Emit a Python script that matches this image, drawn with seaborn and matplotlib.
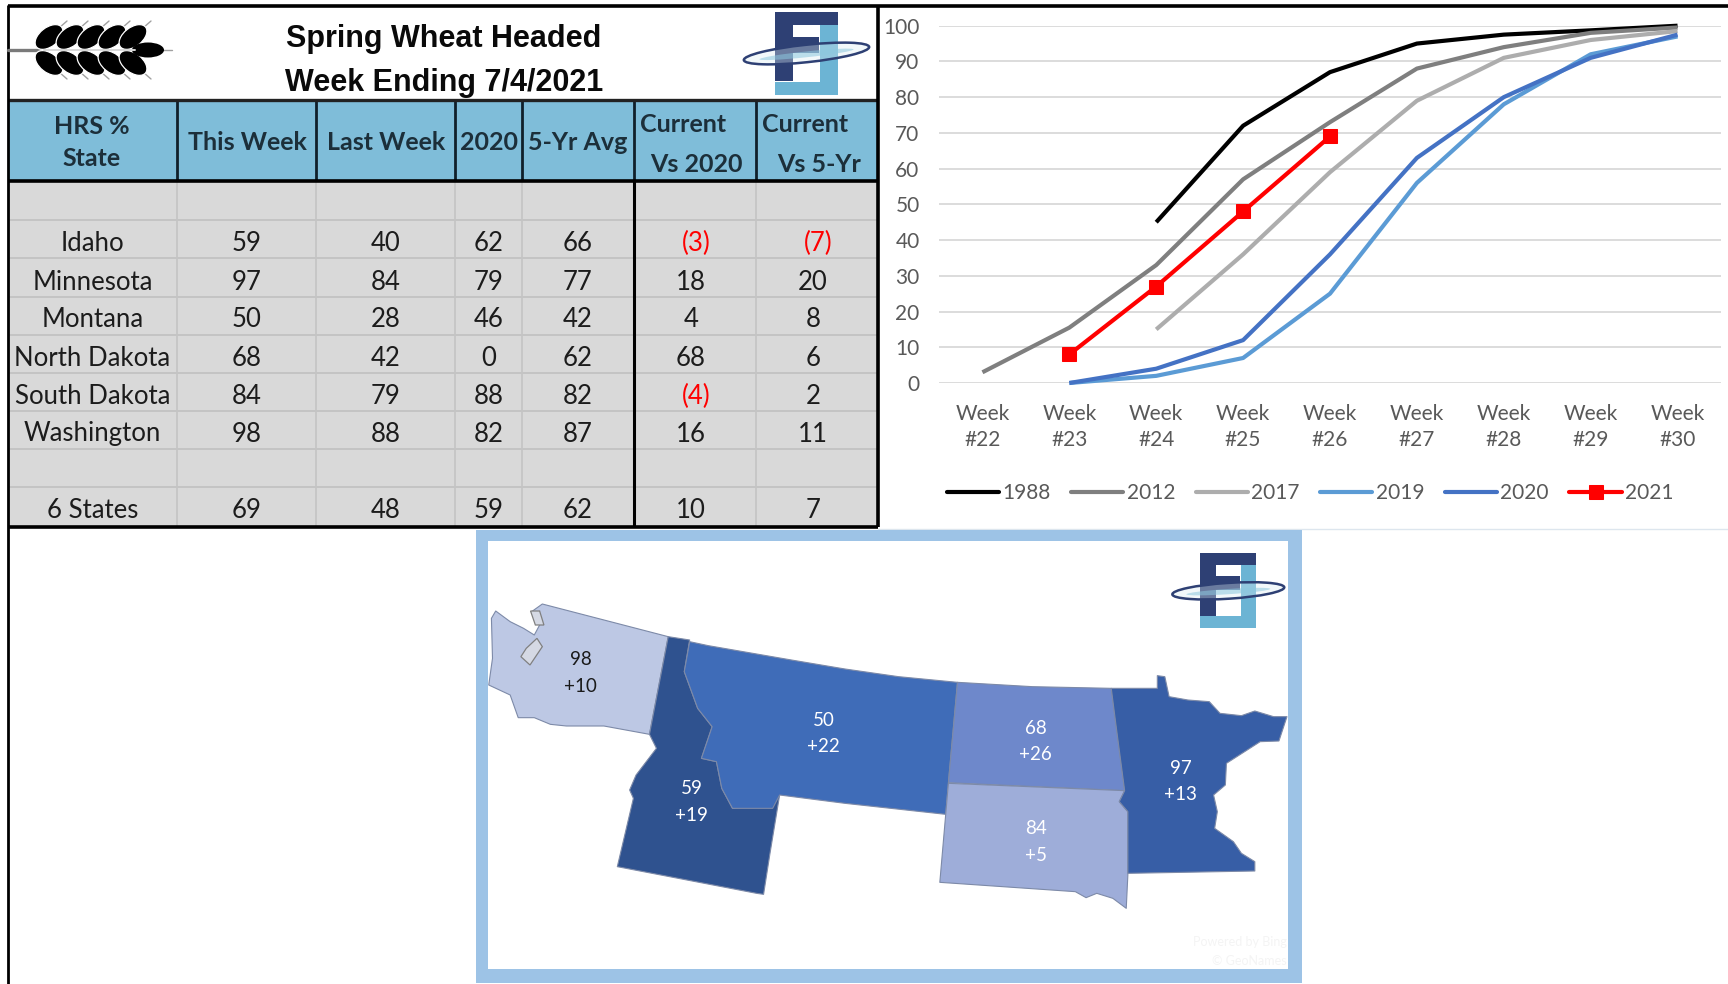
import numpy as np
import pandas as pd
import matplotlib
matplotlib.use("Agg")
import matplotlib.pyplot as plt
from matplotlib.patches import Rectangle, Polygon, Ellipse
import seaborn as sns

# ---------- data ----------
title_lines = ["Spring Wheat Headed", "Week Ending 7/4/2021"]
states = ["", "Idaho", "Minnesota", "Montana", "North Dakota", "South Dakota", "Washington", "", "6 States"]
this_week = [None, 59, 97, 50, 68, 84, 98, None, 69]
last_week = [None, 40, 84, 28, 42, 79, 88, None, 48]
y2020 = [None, 62, 79, 46, 0, 88, 82, None, 59]
avg5 = [None, 66, 77, 42, 62, 82, 87, None, 62]
vs2020 = [None, -3, 18, 4, 68, -4, 16, None, 10]
vs5yr = [None, -7, 20, 8, 6, 2, 11, None, 7]

weeks = ["Week\n#22", "Week\n#23", "Week\n#24", "Week\n#25", "Week\n#26",
         "Week\n#27", "Week\n#28", "Week\n#29", "Week\n#30"]
s1988 = [None, None, 45, 72, 87, 95, 97.5, 98.7, 100]
s2012 = [3, 15.5, 33, 57, 73, 88, 94, 98, 99.5]
s2017 = [None, None, 15, 36, 59, 79, 91, 96, 98.5]
s2019 = [None, 0, 2, 7, 25, 56, 78, 92, 97]
s2020 = [None, 0, 4, 12, 36, 63, 80, 91, 97.5]
s2021 = [None, 8, 27, 48, 69, None, None, None, None]
years = ["1988", "2012", "2017", "2019", "2020", "2021"]
year_colors = ["#000000", "#7F7F7F", "#ADADAD", "#5B9BD5", "#4472C4", "#FF0000"]

map_labels = [("98", "+10", 207, "#1a1a1a"), ("50", "+22", 660, "white"),
              ("68", "+26", 1056, "white"), ("97", "+13", 1327, "white"),
              ("59", "+19", 414, "white"), ("84", "+5", 1056, "white")]
map_label_y = [400, 582, 605, 725, 788, 908]

# state outlines (map-picture units)
wa_shape = [(135,237),(370,335),(335,628),(250,603),(180,603),(150,598),(120,578),(90,578),(75,510),(35,480),
            (42,400),(40,280),(48,258),(75,290),(100,310),(120,330),(130,300),(115,260)]
id_shape = [(370,335),(410,345),(400,440),(425,550),(452,605),(432,700),(460,710),(470,790),(490,850),(555,840),
            (565,830),(578,810),(560,985),(548,1108),(535,1105),(275,1025),(305,820),(298,795),(310,750),(348,670),(335,628)]
mt_shape = [(410,350),(445,362),(600,405),(700,432),(800,455),(910,472),(893,775),(888,868),(700,835),(578,810),(565,850),(490,850),(470,790),
            (460,710),(432,700),(452,605),(425,550),(400,440)]
nd_shape = [(910,472),(1050,485),(1197,490),(1205,590),(1222,797),(893,773)]
sd_shape = [(893,775),(1222,797),(1212,830),(1228,860),(1228,1050),(1225,1150),(1200,1120),(1170,1105),(1150,1118),(1130,1100),(877,1072)]
mn_shape = [(1197,490),(1283,490),(1283,452),(1297,455),(1305,515),(1340,525),(1380,530),(1400,565),(1440,572),(1465,558),
            (1500,575),(1525,575),(1510,648),(1475,650),(1412,715),(1410,780),(1388,810),(1395,860),(1390,910),(1425,950),
            (1440,985),(1465,1010),(1465,1038),(1228,1045),(1228,860),(1212,830),(1222,797),(1205,590)]
puget_a = [(113,258),(130,258),(138,300),(122,300)]
puget_b = [(125,340),(135,365),(112,420),(95,395),(105,370)]
state_shapes = [wa_shape, id_shape, mt_shape, nd_shape, sd_shape, mn_shape]
state_colors = ["#BDC8E4", "#2F528F", "#3F6CB8", "#6E88CB", "#9EADD9", "#375EA6"]

# ---------- figure ----------
sns.set_theme(style="white")
plt.rcParams["font.family"] = ["Lato", "DejaVu Sans"]
fig = plt.figure(figsize=(17.28, 9.84), dpi=100, facecolor="white")

bg = fig.add_axes([0, 0, 1, 1])
bg.set_xlim(0, 1728); bg.set_ylim(984, 0); bg.axis("off")

DARK = "#2E4074"; LIGHT = "#6CB4D4"; HEAD = "#7FBDD9"; CELL = "#D9D9D9"; RULE = "#C4C4C4"; INK = "#1c1c1c"

def logo(ax, x0, y0, w, h):
    R = lambda a, b, c, d, col, z=5: ax.add_patch(Rectangle((x0+a*w, y0+b*h), (c-a)*w, (d-b)*h, fc=col, ec="none", zorder=z))
    R(0.72, 0.15, 1, 1, LIGHT)
    R(0, 0.84, 1, 1, LIGHT)
    R(0, 0, 1, 0.16, DARK)
    R(0, 0, 0.29, 0.83, DARK)
    R(0, 0.30, 0.70, 0.49, DARK)
    cx, cy = x0+0.5*w, y0+0.50*h
    ax.add_patch(Ellipse((cx, cy), 2.0*w, 0.21*h, angle=-6, fc=(0.86, 0.92, 0.95, 0.35), ec="#2E4074", lw=1.8, zorder=6))
    ax.add_patch(Ellipse((cx, cy+0.01*h), 1.5*w, 0.07*h, angle=-6, fc=(0.55, 0.78, 0.87, 0.55), ec="none", zorder=6))

def wheat(ax):
    ax.plot([8, 42], [50, 50], color="#7a7a7a", lw=2.4, zorder=3)
    for i in range(5):
        xc = 49 + 21*i
        for sign in (-1, 1):
            ax.add_patch(Ellipse((xc, 50+sign*13), 32, 19, angle=sign*38, fc="black", ec="white", lw=0.9, zorder=4))
            ax.plot([xc+10, xc+18], [50+sign*22, 50+sign*29], color="#a0a0a0", lw=1.0, zorder=3)
    ax.plot([44, 135], [50, 50], color="#d8d8d8", lw=1.4, zorder=5)
    ax.add_patch(Ellipse((148, 50), 32, 15, fc="black", ec="none", zorder=4))
    ax.plot([160, 172], [50, 50], color="#a0a0a0", lw=1.0, zorder=3)

# table
col_edges = [8, 177, 316, 455, 522, 634, 756, 878]
row_edges = [181, 220, 258, 297, 335, 373, 411, 449, 487, 526]
bg.add_patch(Rectangle((8, 100), 870, 81, fc=HEAD, ec="none"))
bg.add_patch(Rectangle((8, 181), 870, 346, fc=CELL, ec="none"))
for y in row_edges[1:-1]:
    bg.plot([8, 878], [y, y], color=RULE, lw=1.4, solid_capstyle="butt")
for x in col_edges[1:-1]:
    bg.plot([x, x], [181, 526], color=RULE, lw=1.2, solid_capstyle="butt")
    bg.plot([x, x], [100, 181], color="#10202a", lw=2.0, solid_capstyle="butt")
bg.plot([634, 634], [181, 527], color="black", lw=2.2, solid_capstyle="butt")
bg.plot([8, 878], [100, 100], color="#222222", lw=2.4, solid_capstyle="butt")
bg.plot([8, 878], [181, 181], color="black", lw=2.6, solid_capstyle="butt")
bg.plot([8, 878], [527, 527], color="black", lw=2.6, solid_capstyle="butt")
bg.plot([8, 8], [5, 984], color="black", lw=2.0, solid_capstyle="butt")
bg.plot([878, 878], [5, 527], color="black", lw=2.6, solid_capstyle="butt")
bg.plot([8, 1728], [5.5, 5.5], color="black", lw=2.6, solid_capstyle="butt")
bg.plot([878, 1728], [529, 529], color="#DDE6EE", lw=1.0)

for line, y in zip(title_lines, [39, 83]):
    bg.text(444, y, line, ha="center", va="center", fontsize=22, fontweight="bold",
            family=["Liberation Sans"], color="#0a0a0a")

hs = dict(ha="center", va="center", fontsize=18, fontweight="bold", color="#1c2f3a")
bg.text(92, 126, "HRS %", **hs)
bg.text(92, 159, "State", **hs)
bg.text(247, 143, "This Week", **hs)
bg.text(386, 143, "Last Week", **hs)
bg.text(489, 143, "2020", **hs)
bg.text(578, 143, "5-Yr Avg", **hs)
bg.text(640, 125, "Current", **{**hs, "ha": "left"})
bg.text(696, 165, "Vs 2020", **hs)
bg.text(762, 125, "Current", **{**hs, "ha": "left"})
bg.text(819, 165, "Vs 5-Yr", **hs)

row_y = [202, 243.5, 282, 319.5, 358, 396, 434, 470, 510.5]
ts = dict(ha="center", va="center", fontsize=18.5, color=INK)
for i, y in enumerate(row_y):
    if not states[i]:
        continue
    bg.text(92.5, y, states[i], **ts)
    for cx, arr in zip([247, 386, 489, 578], [this_week, last_week, y2020, avg5]):
        bg.text(cx, y, str(arr[i]), **ts)
    for cx, arr in zip([691, 813], [vs2020, vs5yr]):
        v = arr[i]
        if v < 0:
            bg.text(cx+5, y, f"({-v})", **{**ts, "color": "#FF0000"})
        else:
            bg.text(cx, y, str(v), **ts)

wheat(bg)
logo(bg, 775, 12, 63, 83)

# line chart
rows = []
for name, vals in zip(years, [s1988, s2012, s2017, s2019, s2020, s2021]):
    for pos, v in enumerate(vals):
        if v is not None:
            rows.append({"pos": pos, "pct": v, "year": name})
df = pd.DataFrame(rows)

ax = fig.add_axes([939/1728, 1-383/984, 782/1728, (383-25.7)/984])
ax.patch.set_alpha(0)
sns.lineplot(data=df, x="pos", y="pct", hue="year", hue_order=years,
             palette=dict(zip(years, year_colors)), linewidth=3.0, errorbar=None, ax=ax)
ax.set_xlim(-0.5, 8.5); ax.set_ylim(0, 100)
ax.set_xticks(range(9)); ax.set_xticklabels(weeks)
ax.set_yticks(range(0, 101, 10))
ax.set_xlabel(""); ax.set_ylabel("")
ax.yaxis.grid(True, color="#DCDCDC", lw=1.4); ax.xaxis.grid(False)
ax.set_axisbelow(True)
for sp in ax.spines.values():
    sp.set_visible(False)
ax.tick_params(axis="y", length=0, pad=14, labelsize=15, labelcolor="#595959")
ax.tick_params(axis="x", length=0, pad=15, labelsize=15, labelcolor="#595959")
for lab in ax.get_xticklabels():
    lab.set_linespacing(1.38)
sns.move_legend(ax, loc="center left", bbox_to_anchor=((947-939)/782, (383-493)/(383-25.7)),
                ncol=6, title=None, frameon=False, fontsize=15, handlelength=2.5, handletextpad=0.15,
                columnspacing=1.0, borderpad=0, borderaxespad=0)
leg = ax.get_legend()
for t in leg.get_texts():
    t.set_color("#595959")
series_lines = [ln for ln in ax.get_lines() if len(ln.get_xdata()) > 2]
for ln in series_lines:
    ln.set_clip_on(False)
    ln.set_solid_capstyle("butt")
for ln in [series_lines[-1], leg.get_lines()[-1]]:
    ln.set_marker("s"); ln.set_markersize(9.5)
    ln.set_markerfacecolor("#FF0000"); ln.set_markeredgecolor("#FF0000")

# map
frame = fig.add_axes([470/1728, 0, 840/1728, 459/984])
frame.set_xlim(0, 1568); frame.set_ylim(1377, 0); frame.axis("off")
frame.add_patch(Rectangle((12, 15), 1541, 1360, fc="#9DC3E6", ec="none"))
frame.add_patch(Rectangle((33, 48), 1494, 1285, fc="white", ec="none"))
for shape, color in zip(state_shapes, state_colors):
    frame.add_patch(Polygon(shape, closed=True, fc=color, ec="#7d8aa8", lw=0.8, joinstyle="round"))
for shape in (puget_a, puget_b):
    frame.add_patch(Polygon(shape, closed=True, fc="#D5D9E4", ec="#808080", lw=0.9))
for (top, bottom, x, col), y in zip(map_labels, map_label_y):
    frame.text(x, y+4, top, ha="center", va="center", fontsize=13.5, color=col)
    frame.text(x, y+83, bottom, ha="center", va="center", fontsize=13.5, color=col)
frame.text(1525, 1250, "Powered by Bing", ha="right", va="center", fontsize=9, color="#F4F4F4")
frame.text(1525, 1307, "© GeoNames", ha="right", va="center", fontsize=9, color="#F4F4F4")
logo(frame, 1363, 85, 105, 225)

fig.savefig("out.png", dpi=100)
